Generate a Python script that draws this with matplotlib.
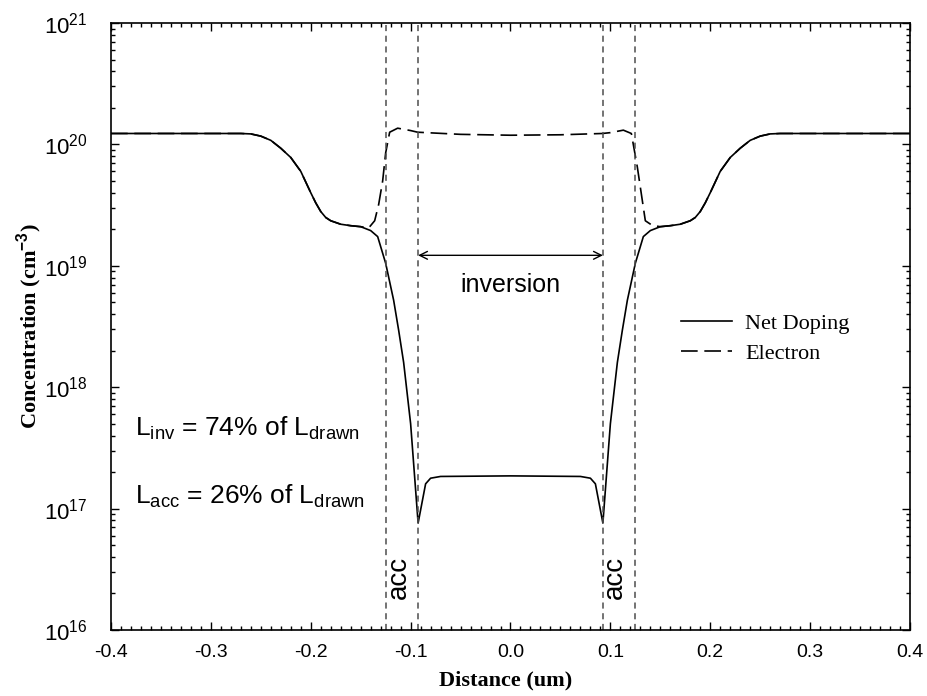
import matplotlib
matplotlib.use('Agg')
import matplotlib.pyplot as plt
from matplotlib.ticker import LogLocator, MultipleLocator, NullFormatter, FixedLocator

plt.rcParams['font.family'] = ['Liberation Sans', 'DejaVu Sans']
plt.rcParams['mathtext.fontset'] = 'custom'
plt.rcParams['mathtext.rm'] = 'Liberation Sans'
plt.rcParams['mathtext.bf'] = 'Liberation Sans:bold'
plt.rcParams['mathtext.default'] = 'rm'

# net doping profile (cm^-3) vs distance (um)
net_x = [-0.40, -0.30, -0.27, -0.26, -0.25, -0.24, -0.23, -0.22, -0.21, -0.20,
         -0.195, -0.19, -0.185, -0.18, -0.17, -0.16, -0.15, -0.14, -0.133, -0.125,
         -0.117, -0.112, -0.107, -0.100, -0.0925, -0.085, -0.080, -0.070, 0.0,
         0.070, 0.080, 0.085, 0.0925, 0.100, 0.107, 0.112, 0.117, 0.125, 0.133,
         0.14, 0.15, 0.16, 0.17, 0.18, 0.185, 0.19, 0.195, 0.20, 0.21, 0.22, 0.23,
         0.24, 0.25, 0.26, 0.27, 0.30, 0.40]
net_doping = [1.23e20, 1.23e20, 1.23e20, 1.22e20, 1.17e20, 1.08e20, 9.3e19, 7.8e19, 6.0e19, 4.0e19,
              3.3e19, 2.8e19, 2.5e19, 2.35e19, 2.2e19, 2.14e19, 2.1e19, 1.95e19, 1.74e19, 1.05e19,
              5.2e18, 2.95e18, 1.6e18, 5.0e17, 7.6e16, 1.6e17, 1.78e17, 1.84e17, 1.86e17,
              1.84e17, 1.78e17, 1.6e17, 7.6e16, 5.0e17, 1.6e18, 2.95e18, 5.2e18, 1.05e19, 1.74e19,
              1.95e19, 2.1e19, 2.14e19, 2.2e19, 2.35e19, 2.5e19, 2.8e19, 3.3e19, 4.0e19, 6.0e19, 7.8e19, 9.3e19,
              1.08e20, 1.17e20, 1.22e20, 1.23e20, 1.23e20, 1.23e20]

# electron concentration
el_x = [-0.40, -0.30, -0.27, -0.26, -0.25, -0.24, -0.23, -0.22, -0.21, -0.20,
        -0.195, -0.19, -0.185, -0.18, -0.17, -0.16, -0.15, -0.142, -0.136, -0.132,
        -0.128, -0.125, -0.121, -0.113, -0.100, -0.093, -0.050, 0.0, 0.050, 0.092,
        0.100, 0.113, 0.121, 0.127, 0.135, 0.142, 0.15, 0.16, 0.17, 0.18, 0.185,
        0.19, 0.195, 0.20, 0.21, 0.22, 0.23, 0.24, 0.25, 0.26, 0.27, 0.30, 0.40]
electron = [1.23e20, 1.23e20, 1.23e20, 1.22e20, 1.17e20, 1.08e20, 9.3e19, 7.8e19, 6.0e19, 4.0e19,
            3.3e19, 2.8e19, 2.5e19, 2.35e19, 2.2e19, 2.14e19, 2.1e19, 2.05e19, 2.35e19, 3.2e19,
            5.0e19, 8.5e19, 1.26e20, 1.36e20, 1.3e20, 1.26e20, 1.21e20, 1.19e20, 1.2e20, 1.23e20,
            1.25e20, 1.31e20, 1.23e20, 6.5e19, 2.35e19, 2.15e19, 2.1e19, 2.14e19, 2.2e19, 2.35e19, 2.5e19,
            2.8e19, 3.3e19, 4.0e19, 6.0e19, 7.8e19, 9.3e19, 1.08e20, 1.17e20, 1.22e20, 1.23e20, 1.23e20, 1.23e20]

# region boundaries (um)
boundaries = [-0.125, -0.0925, 0.0925, 0.125]
x_ticks = [-0.4, -0.3, -0.2, -0.1, 0.0, 0.1, 0.2, 0.3, 0.4]

fig = plt.figure(figsize=(9.28, 6.96), dpi=100)
ax = fig.add_axes([111/928, 1-630/696, 799/928, 607/696])

ax.plot(net_x, net_doping, color='black', lw=1.2, label='Net Doping')
ax.plot(el_x, electron, color='black', lw=1.2, dashes=(10, 4), label='Electron')

for b in boundaries:
    ax.axvline(b, color='0.3', lw=1.1, dashes=(4, 3))

ax.set_yscale('log')
ax.set_xlim(-0.4, 0.4)
ax.set_ylim(1e16, 1e21)

ax.xaxis.set_major_locator(FixedLocator(x_ticks))
ax.xaxis.set_minor_locator(MultipleLocator(0.01))
ax.set_xticklabels(['%.1f' % t for t in x_ticks])
ax.yaxis.set_minor_locator(LogLocator(base=10, subs=range(2, 10), numticks=10))
ax.yaxis.set_minor_formatter(NullFormatter())
ax.set_yticks([1e16, 1e17, 1e18, 1e19, 1e20, 1e21])
ax.set_yticklabels([r'$10^{%d}$' % e for e in range(16, 22)])

ax.tick_params(which='both', direction='in', top=True, right=True, width=1)
ax.tick_params(which='major', length=6)
ax.tick_params(which='minor', length=3)
ax.tick_params(axis='x', pad=10, labelsize=14)
ax.tick_params(axis='y', pad=17, labelsize=16)
for s in ax.spines.values():
    s.set_linewidth(1.2)

fig.text(506/928, 1-680/696, 'Distance (um)', ha='center', va='center',
         fontsize=16, fontweight='bold', family='Liberation Serif')
fig.text(29/928, 1-326/696, r'Concentration (cm$^{\mathbf{-3}}$)', ha='center', va='center',
         rotation=90, fontsize=16, fontweight='bold', family='Liberation Serif')

ax.annotate('', xy=(-0.0925, 1.22e19), xytext=(0.0925, 1.22e19),
            arrowprops=dict(arrowstyle='<->', color='black', lw=1, shrinkA=0, shrinkB=0,
                            mutation_scale=14))
ax.text(0.0, 7e18, 'inversion', ha='center', va='center', fontsize=18)
ax.text(-0.112, 2.7e16, 'acc', ha='center', va='center', rotation=90, fontsize=20)
ax.text(0.105, 2.7e16, 'acc', ha='center', va='center', rotation=90, fontsize=20)
ax.text(-0.376, 4.6e17, r'L$_{inv}$ = 74% of L$_{drawn}$', ha='left', va='center', fontsize=19)
ax.text(-0.376, 1.26e17, r'L$_{acc}$ = 26% of L$_{drawn}$', ha='left', va='center', fontsize=19)

ax.legend(loc='upper left', bbox_to_anchor=(0.713, 0.522), frameon=False, borderpad=0,
          borderaxespad=0, handlelength=2.3, handletextpad=0.6, labelspacing=0.45,
          prop={'family': 'Liberation Serif', 'size': 16})

fig.savefig('out.png', dpi=100)
